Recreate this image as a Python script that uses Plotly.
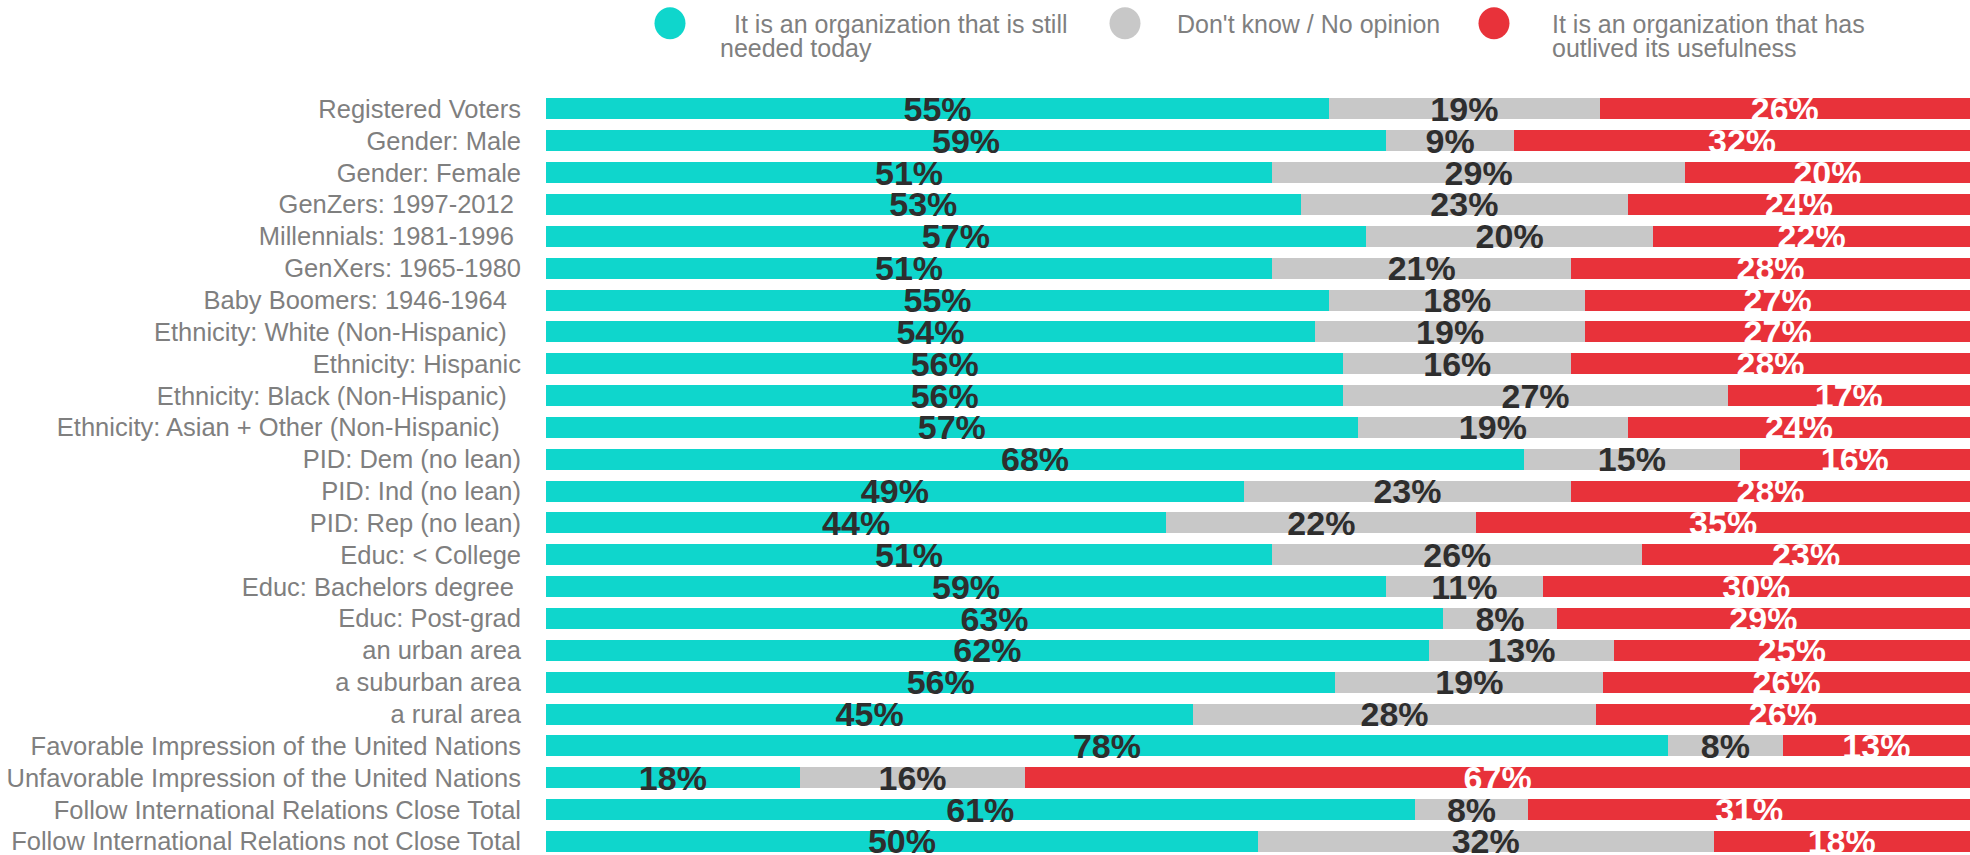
import plotly.graph_objects as go

NB = "\u00a0"
categories = [
    "Registered Voters",
    "Gender: Male",
    "Gender: Female",
    "GenZers: 1997-2012" + NB,
    "Millennials: 1981-1996" + NB,
    "GenXers: 1965-1980",
    "Baby Boomers: 1946-1964" + NB * 2,
    "Ethnicity: White (Non-Hispanic)" + NB * 2,
    "Ethnicity: Hispanic",
    "Ethnicity: Black (Non-Hispanic)" + NB * 2,
    "Ethnicity: Asian + Other (Non-Hispanic)" + NB * 3,
    "PID: Dem (no lean)",
    "PID: Ind (no lean)",
    "PID: Rep (no lean)",
    "Educ: < College",
    "Educ: Bachelors degree" + NB,
    "Educ: Post-grad",
    "an urban area",
    "a suburban area",
    "a rural area",
    "Favorable Impression of the United Nations",
    "Unfavorable Impression of the United Nations",
    "Follow International Relations Close Total",
    "Follow International Relations not Close Total",
]

still_needed = [55, 59, 51, 53, 57, 51, 55, 54, 56, 56, 57, 68, 49, 44, 51, 59, 63, 62, 56, 45, 78, 18, 61, 50]
dont_know = [19, 9, 29, 23, 20, 21, 18, 19, 16, 27, 19, 15, 23, 22, 26, 11, 8, 13, 19, 28, 8, 16, 8, 32]
outlived = [26, 32, 20, 24, 22, 28, 27, 27, 28, 17, 24, 16, 28, 35, 23, 30, 29, 25, 26, 26, 13, 67, 31, 18]

series_names = [
    " It is an organization that is still needed today",
    "Don't know / No opinion",
    "It is an organization that has outlived its usefulness",
]
legend_lines = [
    ["It is an organization that is still", "needed today"],
    ["Don't know / No opinion"],
    ["It is an organization that has", "outlived its usefulness"],
]

TEAL = "#0FD6CC"
GRAY = "#C8C8C8"
RED = "#E8323A"
DARK = "#2E2E2E"
LABEL = "#7F7F7F"
FONT = "Liberation Sans, Arial, sans-serif"

W, H = 1970, 855
L, R, T, B = 546, 0, 93, 0
PW, PH = W - L - R, H - T - B

series = [
    (still_needed, TEAL, DARK),
    (dont_know, GRAY, DARK),
    (outlived, RED, "white"),
]

fig = go.Figure()
for (vals, col, tcol), name in zip(series, series_names):
    fig.add_trace(go.Bar(
        y=categories,
        x=vals,
        name=name,
        orientation="h",
        marker=dict(color=col, line=dict(width=0)),
        text=[f"{v}%" for v in vals],
        textposition="inside",
        insidetextanchor="middle",
        constraintext="none",
        textangle=0,
        textfont=dict(family=FONT, size=34, color=tcol, weight="bold"),
        cliponaxis=False,
        showlegend=False,
        hoverinfo="skip",
    ))


def px_x(px):
    return (px - L) / PW


def px_y(py):
    return (H - B - py) / PH


shapes = []
annotations = []
legend_cx = [670, 1125, 1494]
legend_tx = [[732, 718], [1175], [1550, 1550]]
legend_ty = [24, 48]
for cx, col, lines, txs in zip(legend_cx, [TEAL, GRAY, RED], legend_lines, legend_tx):
    shapes.append(dict(
        type="circle", xref="paper", yref="paper",
        xsizemode="pixel", ysizemode="pixel",
        xanchor=px_x(cx), yanchor=px_y(23),
        x0=-15.5, x1=15.5, y0=-16, y1=16,
        fillcolor=col, line=dict(width=0),
    ))
    for i, (line, tx) in enumerate(zip(lines, txs)):
        annotations.append(dict(
            xref="paper", yref="paper", x=px_x(tx), y=px_y(legend_ty[i]),
            xanchor="left", yanchor="middle", text=line, showarrow=False,
            font=dict(family=FONT, size=25, color=LABEL),
        ))

fig.update_layout(
    width=W, height=H,
    margin=dict(l=L, r=R, t=T, b=B, pad=0),
    barmode="stack",
    barnorm="percent",
    bargap=0.34,
    plot_bgcolor="white",
    paper_bgcolor="white",
    showlegend=False,
    shapes=shapes,
    annotations=annotations,
    xaxis=dict(visible=False, range=[0, 100.01], fixedrange=True),
    yaxis=dict(
        categoryorder="array", categoryarray=categories,
        range=[23.33, -0.5],
        showgrid=False, zeroline=False, showline=False, ticks="",
        ticklabelstandoff=24,
        tickfont=dict(family=FONT, size=25.5, color=LABEL),
        fixedrange=True,
    ),
)

fig.write_html(
    "out.html",
    config={"displayModeBar": False, "staticPlot": True},
    post_script="document.body.style.margin='0';document.body.style.overflow='hidden';",
)
